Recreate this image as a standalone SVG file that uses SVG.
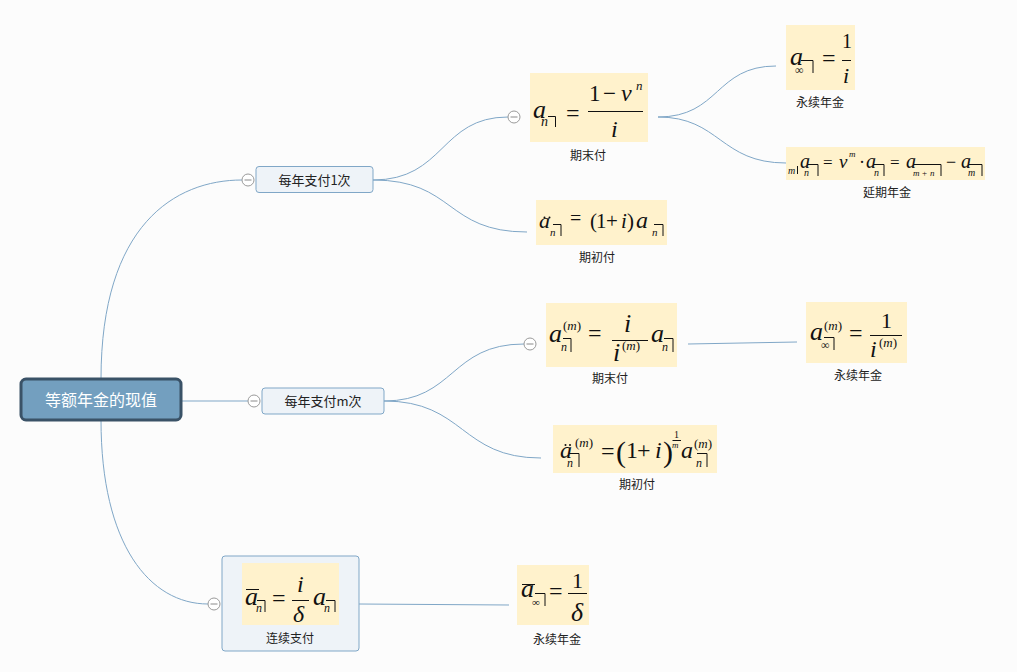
<svg xmlns="http://www.w3.org/2000/svg" width="1017" height="672" viewBox="0 0 1017 672">
<style>
.conn{fill:none;stroke:#80A7C7;stroke-width:1}
.box{fill:#FFF2CC}
.topic{fill:#EEF3F8;stroke:#80A7C7;stroke-width:1}
.btn{fill:#fff;stroke:#9a9a9a;stroke-width:1}
.btnl{stroke:#8a8a8a;stroke-width:1}
.fr{font-family:"Liberation Serif",serif;fill:#111}
.i{font-style:italic}
.fl{stroke:#111;stroke-width:1;fill:none}
.dot{fill:#111}
.lbl{font-family:"Noto Sans CJK SC",sans-serif;font-size:12px;fill:#222;text-anchor:middle}
.tt{font-family:"Noto Sans CJK SC",sans-serif;font-size:13px;fill:#222;text-anchor:middle}
</style>
<rect x="0" y="0" width="1017" height="672" fill="#FCFCFC"/>
<g id="connectors">
<path class="conn" d="M101,379 C101,225 175,180 242,180"/>
<path class="conn" d="M181,401 H248"/>
<path class="conn" d="M101,420 C101,545 150,604 208,604"/>
<path class="conn" d="M373,180 C445,180 440,117 508,117"/>
<path class="conn" d="M373,180 C455,180 445,232 527,232"/>
<path class="conn" d="M658,117 C720,117 715,66 776,66"/>
<path class="conn" d="M658,117 C720,117 720,163 786,163"/>
<path class="conn" d="M384,401 C455,401 450,344 524,344"/>
<path class="conn" d="M384,401 C465,401 460,458 541,458"/>
<path class="conn" d="M688,344 L797,342"/>
<path class="conn" d="M359,604 L509,605"/>
</g>
<g id="root">
<rect x="21" y="379" width="160" height="41" rx="5" fill="#739FBF" stroke="#3A5267" stroke-width="3"/>
<text x="101" y="406" font-family="Noto Sans CJK SC, sans-serif" font-size="16" fill="#fff" text-anchor="middle">等额年金的现值</text>
</g>
<g id="n-once">
<rect class="topic" x="256" y="166.5" width="117" height="26" rx="3"/>
<text class="tt" x="314.5" y="184.5">每年支付1次</text>
<circle class="btn" cx="248" cy="180" r="6"/><path class="btnl" d="M244.5,180H251.5"/>
</g>
<g id="n-m">
<rect class="topic" x="262" y="388" width="122" height="26" rx="3"/>
<text class="tt" x="323" y="406">每年支付m次</text>
<circle class="btn" cx="254" cy="401" r="6"/><path class="btnl" d="M250.5,401H257.5"/>
</g>
<g id="n-cont">
<rect class="topic" x="222" y="556" width="137" height="95" rx="3"/>
<rect class="box" x="242" y="563" width="97" height="62"/>
<text class="fr"><tspan class="i" x="245" y="605" font-size="26">a</tspan><tspan class="i" x="256" y="612" font-size="12">n</tspan><tspan x="272" y="606" font-size="24">=</tspan><tspan class="i" x="297" y="592" font-size="24">i</tspan><tspan class="i" x="293" y="622" font-size="24">δ</tspan><tspan class="i" x="313" y="605" font-size="26">a</tspan><tspan class="i" x="324" y="612" font-size="12">n</tspan></text>
<path class="fl" d="M246,589.5H259M257,600.5H265V612M292,600.5H309M326,600.5H335V612"/>
<text class="lbl" x="290" y="643" font-size="13">连续支付</text>
<circle class="btn" cx="214" cy="604" r="6"/><path class="btnl" d="M210.5,604H217.5"/>
</g>
<g id="f-end">
<rect class="box" x="530" y="73" width="118" height="69"/>
<text class="fr"><tspan class="i" x="533" y="118" font-size="26">a</tspan><tspan class="i" x="541" y="126" font-size="14">n</tspan><tspan x="566" y="121" font-size="24">=</tspan><tspan x="589" y="101" font-size="23">1</tspan><tspan x="603" y="101" font-size="23">−</tspan><tspan class="i" x="621" y="101" font-size="24">v</tspan><tspan class="i" x="636" y="90" font-size="13">n</tspan><tspan class="i" x="611" y="137" font-size="24">i</tspan></text>
<path class="fl" d="M548,116.5H555.5V127M588,111.5H643"/>
<text class="lbl" x="588" y="160">期末付</text>
<circle class="btn" cx="514" cy="117" r="6"/><path class="btnl" d="M510.5,117H517.5"/>
</g>
<g id="f-perp1">
<rect class="box" x="786" y="25" width="69" height="65"/>
<text class="fr"><tspan class="i" x="790" y="65" font-size="26">a</tspan><tspan x="795" y="74" font-size="12">∞</tspan><tspan x="822" y="66" font-size="24">=</tspan><tspan x="842" y="48" font-size="20">1</tspan><tspan class="i" x="843" y="83" font-size="22">i</tspan></text>
<path class="fl" d="M801,60.5H813V73M842,60.5H851"/>
<text class="lbl" x="820" y="107">永续年金</text>
</g>
<g id="f-defer">
<rect class="box" x="786" y="147" width="199" height="33"/>
<text class="fr"><tspan class="i" x="788" y="174" font-size="10">m</tspan><tspan class="i" x="800" y="168" font-size="20">a</tspan><tspan class="i" x="804" y="176" font-size="10">n</tspan><tspan x="823" y="168" font-size="17">=</tspan><tspan class="i" x="839" y="168" font-size="19">v</tspan><tspan class="i" x="849" y="157" font-size="9">m</tspan><tspan x="859" y="168" font-size="18">·</tspan><tspan class="i" x="866" y="168" font-size="20">a</tspan><tspan class="i" x="874" y="176" font-size="10">n</tspan><tspan x="890" y="168" font-size="17">=</tspan><tspan class="i" x="906" y="168" font-size="20">a</tspan><tspan class="i" x="913" y="176" font-size="9">m</tspan><tspan x="922" y="176" font-size="9">+</tspan><tspan class="i" x="930" y="176" font-size="9">n</tspan><tspan x="946" y="168" font-size="18">−</tspan><tspan class="i" x="961" y="168" font-size="20">a</tspan><tspan class="i" x="968" y="176" font-size="10">m</tspan></text>
<path class="fl" d="M797.5,166V174M808,164.5H818V176M874,164.5H884V176M914,164.5H941V176M969,164.5H982V176"/>
<text class="lbl" x="887" y="197">延期年金</text>
</g>
<g id="f-due">
<rect class="box" x="536" y="200" width="131" height="45"/>
<text class="fr"><tspan class="i" x="539" y="228" font-size="22">a</tspan><tspan class="i" x="550" y="236" font-size="11">n</tspan><tspan x="570" y="225" font-size="20">=</tspan><tspan x="590" y="228" font-size="21">(</tspan><tspan x="596" y="228" font-size="21">1</tspan><tspan x="606" y="228" font-size="21">+</tspan><tspan class="i" x="621" y="228" font-size="21">i</tspan><tspan x="627" y="228" font-size="21">)</tspan><tspan class="i" x="636" y="228" font-size="24">a</tspan><tspan class="i" x="652" y="236" font-size="11">n</tspan></text>
<circle class="dot" cx="544.5" cy="217.5" r="1"/><circle class="dot" cx="549.5" cy="217.5" r="1"/>
<path class="fl" d="M553,224.5H561V236M654,224.5H663V236"/>
<text class="lbl" x="597" y="262">期初付</text>
</g>
<g id="f-m-end">
<rect class="box" x="546" y="303" width="131" height="64"/>
<text class="fr"><tspan class="i" x="549" y="342" font-size="26">a</tspan><tspan x="563" y="330" font-size="13">(</tspan><tspan class="i" font-size="13">m</tspan><tspan font-size="13">)</tspan><tspan class="i" x="561" y="351" font-size="12">n</tspan><tspan x="588" y="341" font-size="24">=</tspan><tspan class="i" x="624" y="332" font-size="26">i</tspan><tspan class="i" x="613" y="361" font-size="26">i</tspan><tspan x="622" y="350" font-size="13">(</tspan><tspan class="i" font-size="13">m</tspan><tspan font-size="13">)</tspan><tspan class="i" x="651" y="342" font-size="26">a</tspan><tspan class="i" x="662" y="351" font-size="12">n</tspan></text>
<path class="fl" d="M563,338.5H571V352M612,340.5H648M664,338.5H673V352"/>
<text class="lbl" x="610" y="383">期末付</text>
<circle class="btn" cx="530" cy="344" r="6"/><path class="btnl" d="M526.5,344H533.5"/>
</g>
<g id="f-m-perp">
<rect class="box" x="806" y="302" width="101" height="61"/>
<text class="fr"><tspan class="i" x="810" y="340" font-size="26">a</tspan><tspan x="824" y="330" font-size="13">(</tspan><tspan class="i" font-size="13">m</tspan><tspan font-size="13">)</tspan><tspan x="821" y="349" font-size="12">∞</tspan><tspan x="849" y="341" font-size="24">=</tspan><tspan x="881" y="328" font-size="22">1</tspan><tspan class="i" x="870" y="357" font-size="24">i</tspan><tspan x="879" y="347" font-size="13">(</tspan><tspan class="i" font-size="13">m</tspan><tspan font-size="13">)</tspan></text>
<path class="fl" d="M824,337.5H834V350M870,335.5H902"/>
<text class="lbl" x="858" y="380">永续年金</text>
</g>
<g id="f-m-due">
<rect class="box" x="553" y="425" width="164" height="48"/>
<text class="fr"><tspan class="i" x="560" y="458" font-size="24">a</tspan><tspan x="575" y="447" font-size="13">(</tspan><tspan class="i" font-size="13">m</tspan><tspan font-size="13">)</tspan><tspan class="i" x="567" y="467" font-size="12">n</tspan><tspan x="601" y="459" font-size="24">=</tspan><tspan x="616" y="462" font-size="30">(</tspan><tspan x="626" y="458" font-size="24">1</tspan><tspan x="637" y="458" font-size="24">+</tspan><tspan class="i" x="655" y="458" font-size="24">i</tspan><tspan x="663" y="462" font-size="30">)</tspan><tspan x="674" y="438" font-size="10">1</tspan><tspan class="i" x="672" y="448" font-size="9">m</tspan><tspan class="i" x="681" y="458" font-size="24">a</tspan><tspan x="694" y="448" font-size="13">(</tspan><tspan class="i" font-size="13">m</tspan><tspan font-size="13">)</tspan><tspan class="i" x="696" y="467" font-size="12">n</tspan></text>
<circle class="dot" cx="565.5" cy="445" r="1"/><circle class="dot" cx="570" cy="445" r="1"/>
<path class="fl" d="M569,453.5H579V467M672.5,440.5H681M697,453.5H707V467"/>
<text class="lbl" x="637" y="489">期初付</text>
</g>
<g id="f-cont-perp">
<rect class="box" x="517" y="565" width="72" height="60"/>
<text class="fr"><tspan class="i" x="521" y="597" font-size="26">a</tspan><tspan x="532" y="606" font-size="11">∞</tspan><tspan x="549" y="599" font-size="24">=</tspan><tspan x="572" y="588" font-size="22">1</tspan><tspan class="i" x="571" y="621" font-size="26">δ</tspan></text>
<path class="fl" d="M522,584.5H535M535,593.5H545V606M568,593.5H587"/>
<text class="lbl" x="557" y="644">永续年金</text>
</g>
</svg>
